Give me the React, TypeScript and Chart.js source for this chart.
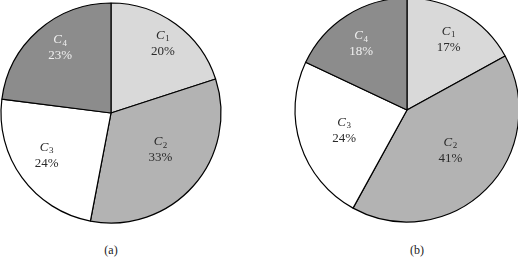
import React, { useEffect, useRef } from "react";
import { Chart, registerables } from "chart.js";

Chart.register(...registerables);

const categories = ["1", "2", "3", "4"];
const valuesA = [20, 33, 24, 23];
const valuesB = [17, 41, 24, 18];
const percentLabelsA = ["20%", "33%", "24%", "23%"];
const percentLabelsB = ["17%", "41%", "24%", "18%"];
const captions = ["(a)", "(b)"];

const sliceColors = ["#d9d9d9", "#b3b3b3", "#ffffff", "#8c8c8c"];
const textColors = ["#2a2a2a", "#2a2a2a", "#2a2a2a", "#f0f0f0"];
const labelRadiusA = [0.79, 0.56, 0.7, 0.75];
const labelRadiusB = [0.73, 0.53, 0.59, 0.72];
const labelShiftA = [0.6, -4.9, 2.7, 3.4];
const labelShiftB = [0, -2, 0, -2.3];

const SERIF = '"Liberation Serif", "Times New Roman", Times, serif';

function makeLabelPlugin(percents: string[], fracs: number[], shifts: number[]) {
  return {
    id: "sliceLabels",
    afterDatasetsDraw(chart: any) {
      const ctx = chart.ctx;
      const meta = chart.getDatasetMeta(0);
      meta.data.forEach((arc: any, i: number) => {
        const p = arc.getProps(["x", "y", "startAngle", "endAngle", "outerRadius"], true);
        const mid = (p.startAngle + p.endAngle) / 2 + (shifts[i] * Math.PI) / 180;
        const r = p.outerRadius * fracs[i];
        const cx = p.x + Math.cos(mid) * r;
        const cy = p.y + Math.sin(mid) * r;
        ctx.save();
        ctx.fillStyle = textColors[i];
        ctx.textBaseline = "middle";
        ctx.textAlign = "left";
        ctx.font = `italic 13px ${SERIF}`;
        const wC = ctx.measureText("C").width;
        ctx.font = `9px ${SERIF}`;
        const wS = ctx.measureText(categories[i]).width;
        const total = wC + wS + 0.5;
        const x0 = cx - total / 2;
        const y1 = cy - 8;
        ctx.font = `italic 13px ${SERIF}`;
        ctx.fillText("C", x0, y1);
        ctx.font = `9px ${SERIF}`;
        ctx.fillText(categories[i], x0 + wC + 0.5, y1 + 3.5);
        ctx.font = `13px ${SERIF}`;
        ctx.textAlign = "center";
        ctx.fillText(percents[i], cx, cy + 8);
        ctx.restore();
      });
    },
  };
}

function PieCanvas(props: {
  values: number[];
  percents: string[];
  fracs: number[];
  shifts: number[];
  left: number;
  top: number;
  size: number;
  radius: number;
}) {
  const ref = useRef<HTMLCanvasElement>(null);
  useEffect(() => {
    if (!ref.current) return;
    const chart = new Chart(ref.current, {
      type: "pie",
      data: {
        labels: categories.map((c) => "C" + c),
        datasets: [
          {
            data: props.values,
            backgroundColor: sliceColors,
            borderColor: "#000000",
            borderWidth: 1.2,
          },
        ],
      },
      options: {
        responsive: false,
        animation: false,
        events: [],
        radius: props.radius,
        layout: { padding: 0 },
        plugins: {
          legend: { display: false },
          tooltip: { enabled: false },
          title: { display: false },
        },
      } as any,
      plugins: [makeLabelPlugin(props.percents, props.fracs, props.shifts)],
    });
    return () => chart.destroy();
  }, []);
  return (
    <canvas
      ref={ref}
      width={props.size}
      height={props.size}
      style={{
        position: "absolute",
        left: props.left,
        top: props.top,
        width: props.size,
        height: props.size,
      }}
    />
  );
}

const captionStyle: React.CSSProperties = {
  position: "absolute",
  width: 60,
  top: 243,
  textAlign: "center",
  fontFamily: SERIF,
  fontSize: 12,
  lineHeight: "14px",
  color: "#222",
};

export default function App() {
  const size = 240;
  return (
    <div
      style={{
        position: "fixed",
        left: 0,
        top: 0,
        width: 518,
        height: 259,
        background: "#ffffff",
        overflow: "hidden",
      }}
    >
      <PieCanvas
        values={valuesA}
        percents={percentLabelsA}
        fracs={labelRadiusA}
        shifts={labelShiftA}
        left={111 - size / 2}
        top={113 - size / 2}
        size={size}
        radius={110}
      />
      <PieCanvas
        values={valuesB}
        percents={percentLabelsB}
        fracs={labelRadiusB}
        shifts={labelShiftB}
        left={406.5 - size / 2}
        top={110 - size / 2}
        size={size}
        radius={112}
      />
      <div style={{ ...captionStyle, left: 111 - 30 }}>{captions[0]}</div>
      <div style={{ ...captionStyle, left: 417 - 30 }}>{captions[1]}</div>
    </div>
  );
}
